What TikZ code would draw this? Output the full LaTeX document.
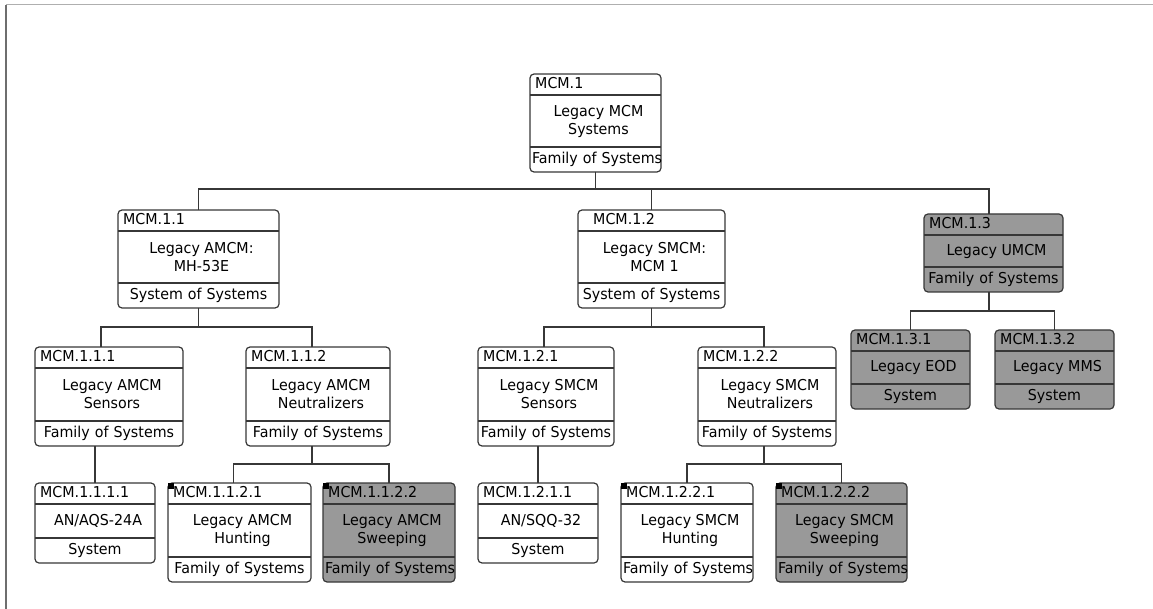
\documentclass[tikz,border=0pt]{standalone}
\usepackage{fontspec}
\setmainfont{DejaVu Sans}[FakeStretch=0.95]
\usetikzlibrary{fit}
\definecolor{boxgray}{RGB}{153,153,153}
\definecolor{linegray}{RGB}{55,55,55}
\definecolor{framegray}{RGB}{175,175,175}
\definecolor{edgegray}{RGB}{110,110,110}
\newcommand{\mcmfont}{\fontsize{15}{18}\selectfont}
\tikzset{
  mcm/.style={draw=linegray, line width=1.2pt, rounded corners=4pt, inner sep=0pt, outer sep=0pt},
  sepline/.style={draw=linegray, line width=1.2pt},
  idtext/.style={anchor=west, inner sep=0pt, text height=11pt, text depth=3pt},
  bodytext/.style={align=center, inner sep=0pt},
  typetext/.style={align=center, inner sep=0pt, text height=11pt, text depth=3pt},
  link/.style={draw=linegray, line width=1.2pt},
}
% box: [fill]{name}{x1}{y1}{x2}{y2}{id}{body}{type}
\newcommand{\mcmbox}[9][white]{%
  \node[mcm, fill=#1, fit={(#3,#4) (#5,#6)}] (#2) {};
  \draw[sepline] ({#3},{#4+21}) -- ({#5},{#4+21});
  \draw[sepline] ({#3},{#6-25}) -- ({#5},{#6-25});
  \node[idtext] at ({#3+5},{#4+10.5}) {#7};
  \node[bodytext] at ({(#3+#5)/2+3},{(#4+#6-4)/2}) {#8};
  \pgfmathsetmacro\mcmw{#5-#3-4}
  \node[typetext, text width=\mcmw pt] at ({(#3+#5)/2},{#6-12.5}) {\mbox{#9}};
}
\begin{document}
\begin{tikzpicture}[x=1pt, y=-1pt, font=\mcmfont]
  \useasboundingbox (0,0) rectangle (1153,609);
  \draw[framegray, line width=1pt] (6,5) -- (1153,5);
  \draw[edgegray, line width=2pt] (6,5) -- (6,609);

  \mcmbox{mcm1}{530}{74}{661}{172}{MCM.1}{Legacy MCM\\Systems}{Family of Systems}
  \mcmbox{mcm11}{118}{210}{279}{308}{MCM.1.1}{Legacy AMCM:\\MH-53E}{System of Systems}
  \mcmbox{mcm12}{578}{210}{725}{308}{\hspace{10pt}MCM.1.2}{Legacy SMCM:\\MCM 1}{System of Systems}
  \mcmbox[boxgray]{mcm13}{924}{214}{1063}{292}{MCM.1.3}{Legacy UMCM}{Family of Systems}
  \mcmbox{mcm111}{35}{347}{183}{446}{MCM.1.1.1}{Legacy AMCM\\Sensors}{Family of Systems}
  \mcmbox{mcm112}{246}{347}{390}{446}{MCM.1.1.2}{Legacy AMCM\\Neutralizers}{Family of Systems}
  \mcmbox{mcm121}{478}{347}{614}{446}{MCM.1.2.1}{Legacy SMCM\\Sensors}{Family of Systems}
  \mcmbox{mcm122}{698}{347}{836}{446}{MCM.1.2.2}{Legacy SMCM\\Neutralizers}{Family of Systems}
  \mcmbox[boxgray]{mcm131}{851}{330}{970}{409}{MCM.1.3.1}{Legacy EOD}{System}
  \mcmbox[boxgray]{mcm132}{995}{330}{1114}{409}{MCM.1.3.2}{Legacy MMS}{System}
  \mcmbox{mcm1111}{35}{483}{155}{563}{MCM.1.1.1.1}{AN/AQS-24A}{System}
  \mcmbox{mcm1121}{168}{483}{311}{582}{MCM.1.1.2.1}{Legacy AMCM\\Hunting}{Family of Systems}
  \mcmbox[boxgray]{mcm1122}{323}{483}{455}{582}{MCM.1.1.2.2}{Legacy AMCM\\Sweeping}{Family of Systems}
  \mcmbox{mcm1211}{478}{483}{598}{563}{MCM.1.2.1.1}{AN/SQQ-32}{System}
  \mcmbox{mcm1221}{621}{483}{753}{582}{MCM.1.2.2.1}{Legacy SMCM\\Hunting}{Family of Systems}
  \mcmbox[boxgray]{mcm1222}{776}{483}{907}{582}{MCM.1.2.2.2}{Legacy SMCM\\Sweeping}{Family of Systems}

  % corner markers
  \fill (mcm1121.north west) rectangle ++(6,6);
  \fill (mcm1122.north west) rectangle ++(6,6);
  \fill (mcm1221.north west) rectangle ++(6,6);
  \fill (mcm1222.north west) rectangle ++(6,6);

  \begin{scope}[link]
    \draw (mcm1.south) -- ++(0,17) -| (mcm11.north);
    \draw (mcm1.south) -- ++(0,17) -| (mcm12.north);
    \draw (mcm1.south) -- ++(0,17) -| ([xshift=-4.5pt]mcm13.north);
    \draw (mcm11.south) -- ++(0,19) -| ([xshift=-8pt]mcm111.north);
    \draw (mcm11.south) -- ++(0,19) -| ([xshift=-6pt]mcm112.north);
    \draw (mcm12.south) -- ++(0,19) -| ([xshift=-2pt]mcm121.north);
    \draw (mcm12.south) -- ++(0,19) -| ([xshift=-3pt]mcm122.north);
    \draw ([xshift=-4.5pt]mcm13.south) -- ++(0,19) -| (mcm131.north);
    \draw ([xshift=-4.5pt]mcm13.south) -- ++(0,19) -| (mcm132.north);
    \draw (mcm1111.north) -- (mcm1111.north |- mcm111.south);
    \draw ([xshift=-6pt]mcm112.south) -- ++(0,18) -| ([xshift=-6pt]mcm1121.north);
    \draw ([xshift=-6pt]mcm112.south) -- ++(0,18) -| (mcm1122.north);
    \draw (mcm1211.north) -- (mcm1211.north |- mcm121.south);
    \draw ([xshift=-3pt]mcm122.south) -- ++(0,18) -| (mcm1221.north);
    \draw ([xshift=-3pt]mcm122.south) -- ++(0,18) -| (mcm1222.north);
  \end{scope}
\end{tikzpicture}
\end{document}
